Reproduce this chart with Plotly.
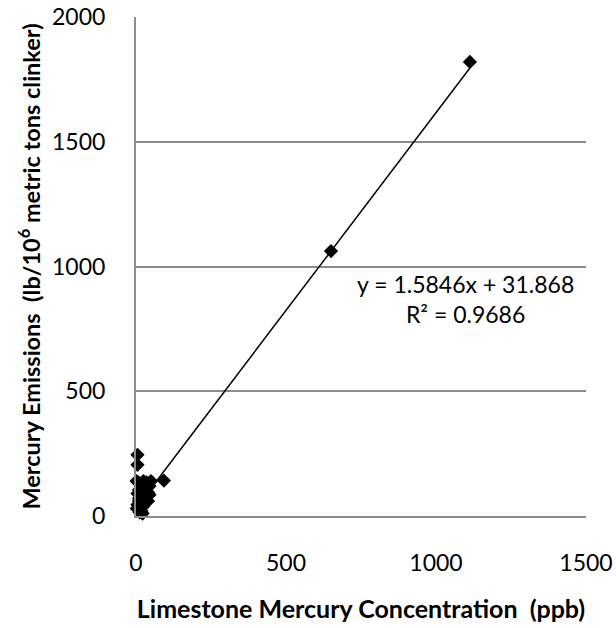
import plotly.graph_objects as go

# Limestone mercury concentration (ppb)
x_vals = [5, 5, 93, 650, 1113,
          2, 8, 15, 25, 35, 45, 50, 30, 20, 40, 10, 5, 15, 25, 35, 45,
          10, 20, 30, 5, 15, 25, 8, 18, 12, 3, 22, 10, 40]
# Mercury emissions (lb/10^6 metric tons clinker)
y_vals = [245, 205, 142, 1062, 1820,
          140, 135, 130, 140, 135, 120, 140, 110, 100, 95, 105, 90, 80, 75, 80, 85,
          60, 55, 65, 45, 35, 40, 25, 20, 15, 30, 10, 70, 60]

slope = 1.5846
intercept = 31.868
r2 = 0.9686

x_ticks = [0, 500, 1000, 1500]
y_ticks = [0, 500, 1000, 1500, 2000]

font_family = "Lato, 'Open Sans', sans-serif"

fig = go.Figure()

xmin, xmax = min(x_vals), max(x_vals)
fig.add_trace(go.Scatter(
    x=[xmin, xmax], y=[slope * xmin + intercept, slope * xmax + intercept],
    mode="lines", line=dict(color="black", width=1.5), showlegend=False,
    hoverinfo="skip"))

fig.add_trace(go.Scatter(
    x=x_vals, y=y_vals, mode="markers",
    marker=dict(symbol="diamond", size=11, color="black"),
    showlegend=False, cliponaxis=False))

fig.add_annotation(
    x=1097, y=870, xref="x", yref="y",
    text=f"y = {slope}x + {intercept}<br>R² = {r2}",
    showarrow=False, align="center", yanchor="middle",
    font=dict(family=font_family, size=23, color="black"))

fig.update_layout(
    width=616, height=628,
    margin=dict(l=136, r=30, t=17, b=112),
    paper_bgcolor="white", plot_bgcolor="white",
    font=dict(family=font_family, color="black"),
    xaxis=dict(
        range=[0, 1500], tickvals=x_ticks, showgrid=False, zeroline=False,
        showline=True, linecolor="#8c8c8c", linewidth=2, automargin=False,
        tickfont=dict(size=23), ticks="", ticklabelstandoff=25,
        title=dict(text="<b>Limestone Mercury Concentration  (ppb)</b>",
                   font=dict(size=25), standoff=26),
    ),
    yaxis=dict(
        range=[0, 2000], tickvals=y_ticks, showgrid=True, gridcolor="#8c8c8c",
        gridwidth=1.5, zeroline=False, automargin=False,
        showline=True, linecolor="#8c8c8c", linewidth=2,
        tickfont=dict(size=23), ticks="", ticklabelstandoff=24,
        title=dict(text="<b>Mercury Emissions  (lb/10<sup>6</sup> metric tons clinker)</b>",
                   font=dict(size=23.5), standoff=5),
    ),
)

fig.write_html("out.html")
